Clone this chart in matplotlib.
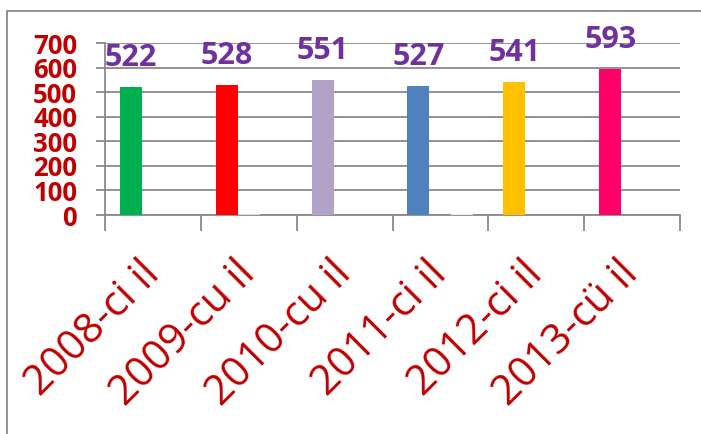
import matplotlib.pyplot as plt
import numpy as np
from matplotlib.patches import Rectangle

categories = ["2008-ci il", "2009-cu il", "2010-cu il", "2011-ci il", "2012-ci il", "2013-cü il"]
values = [522, 528, 551, 527, 541, 593]
bar_colors = ["#00b050", "#ff0000", "#b3a2c7", "#4f81bd", "#ffc000", "#ff0066"]
# two almost-empty series next to the main one
extra_b = [0, 4, 0, 0, 0, 0]
extra_c = [0, 0, 0, 4, 0, 0]

plt.rcParams['font.family'] = ['Open Sans', 'DejaVu Sans']
grey = "#898989"
dark_red = "#c00000"

fig = plt.figure(figsize=(7.01, 4.34), dpi=100)
ax = fig.add_axes([105/701, 1 - 215/434, 575/701, 172/434])

x = np.arange(len(categories))
w = 0.229
ax.bar(x - w, values, width=w, color=bar_colors, zorder=3)
ax.bar(x, extra_b, width=w, color="#e4dbd3", zorder=3)
ax.bar(x + w, extra_c, width=w, color="#ebf1dd", zorder=3)

for xi, v in zip(x, values):
    ax.annotate(str(v), (xi - w, v), xytext=(0, 15), textcoords="offset points",
                ha="center", va="baseline", color="#7030a0",
                fontsize=22, fontweight="bold")

ax.set_xlim(-0.5, len(categories) - 0.5)
ax.set_ylim(0, 700)
ax.set_yticks(range(0, 701, 100))
ax.yaxis.grid(True, color=grey, linewidth=1.3, zorder=0)
ax.set_axisbelow(True)

ax.set_xticks(x)
ax.set_xticks(np.arange(-0.5, len(categories)), minor=True)
ax.set_xticklabels(categories, rotation=45, ha="right", va="center",
                   rotation_mode="anchor", fontsize=30, color=dark_red)
ax.tick_params(axis="x", which="major", length=0, pad=38)
ax.tick_params(axis="x", which="minor", length=11.5, width=1.3, color=grey)
ax.tick_params(axis="y", length=6.5, width=1.3, color=grey, pad=13.5,
               labelsize=18.5, labelcolor=dark_red)
for lab in ax.get_yticklabels():
    lab.set_fontweight("bold")

for s in ["top", "right"]:
    ax.spines[s].set_visible(False)
for s in ["left", "bottom"]:
    ax.spines[s].set_color(grey)
    ax.spines[s].set_linewidth(1.3)

fig.patches.append(Rectangle((7/701, -0.1), 1.2, 1.1 - 11/434,
                             transform=fig.transFigure, fill=False,
                             edgecolor=grey, linewidth=1.3))

fig.savefig("out.png", dpi=100)
